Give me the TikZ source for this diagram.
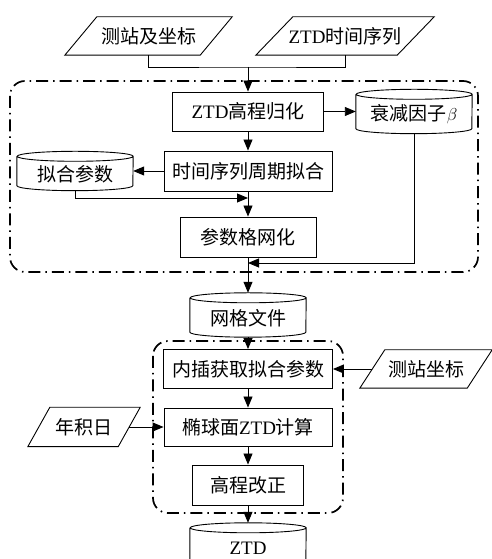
\documentclass[tikz,border=0pt]{standalone}
\usepackage{fontspec}
\setmainfont{Liberation Serif}
\newfontfamily\cjk{Noto Sans CJK SC}
\newcommand\zh[1]{{\cjk #1}}
\newcommand\lowtext[1]{\raisebox{-3pt}[\height][\depth]{#1}}
\usetikzlibrary{arrows.meta,calc}

% parallelogram outline around a (borderless) rectangle node: #1 name, #2 slant
\newcommand\drawpara[2]{%
  \draw[wire] ([xshift=-#2/2]#1.south west) -- ([xshift=-#2/2]#1.south east)
    -- ([xshift=#2/2]#1.north east) -- ([xshift=#2/2]#1.north west) -- cycle;}
% vertical cylinder outline around a (borderless) rectangle node of width 116
\newcommand\drawcyl[1]{%
  \draw[wire] ([yshift=-5pt]#1.north west) -- ([yshift=5pt]#1.south west)
    arc[start angle=180,end angle=360,x radius=58,y radius=5]
    -- ([yshift=-5pt]#1.north east)
    arc[start angle=0,end angle=360,x radius=58,y radius=5];}

\begin{document}
\begin{tikzpicture}[x=1pt,y=1pt,
  font=\fontsize{19}{21}\selectfont,
  wire/.style={line width=0.9pt},
  flow/.style={wire,-{Triangle[length=11pt,width=9pt]}},
  procbox/.style 2 args={draw,wire,minimum width=#1,minimum height=#2,inner sep=0pt},
  cylbox/.style={minimum width=116,minimum height=#1,inner sep=0pt},
  parabox/.style 2 args={minimum width=#1,minimum height=#2,inner sep=0pt},
  group/.style={line width=1.7pt,rounded corners=15pt,
    dash pattern=on 12pt off 5pt on 1.5pt off 5pt}]
\clip (0,0) rectangle (492,559);

% dash-dotted groups
\draw[group] (10,478) rectangle (478,287);
\draw[group] (153,218) rectangle (343,46);

% inputs
\node[parabox={135}{38}] (p1) at (148.5,523) {\zh{测站及坐标}};
\node[parabox={141}{38}] (p2) at (345,523) {ZTD\zh{时间序列}};
\node[parabox={90}{39}]  (p3) at (84,132)   {\zh{年积日}};
\node[parabox={107}{38}] (p4) at (426,190)  {\zh{测站坐标}};
\drawpara{p1}{32}
\drawpara{p2}{37}
\drawpara{p3}{22}
\drawpara{p4}{25}

% processing steps
\node[procbox={151}{39}] (b1) at (248,447.5) {ZTD\zh{高程归化}};
\node[procbox={168}{40}] (b2) at (248,388)   {\zh{时间序列周期拟合}};
\node[procbox={136}{40}] (b3) at (248,322)   {\zh{参数格网化}};
\node[procbox={169}{39}] (b4) at (248,190)   {\zh{内插获取拟合参数}};
\node[procbox={168}{38}] (b5) at (248,132)   {\zh{椭球面}ZTD\zh{计算}};
\node[procbox={111}{40}] (b6) at (248,74)    {\zh{高程改正}};

% data stores
\node[cylbox=44] (c1) at (414,447.5) {\lowtext{\zh{衰减因子}$\beta$}};
\node[cylbox=39] (c2) at (75,388)    {\lowtext{\zh{拟合参数}}};
\node[cylbox=44] (c3) at (248,244)   {\lowtext{\zh{网格文件}}};
\node[cylbox=44] (c4) at (248,14)    {\lowtext{ZTD}};
\drawcyl{c1}
\drawcyl{c2}
\drawcyl{c3}
\drawcyl{c4}

% junction points
\coordinate (j) at (248,492);
\coordinate (k) at (248,296);
\coordinate (m) at (248,361);

% connectors
\draw[wire] (p1.south) |- (j) -| (p2.south);
\draw[flow] (j) -- (b1.north);
\draw[flow] (b1.east) -- (c1.west);
\draw[flow] (c1.south) |- (k);
\draw[flow] (b1.south) -- (b2.north);
\draw[flow] (b2.west) -- (c2.east);
\draw[flow] (c2.south) |- (m);
\draw[flow] (b2.south) -- (b3.north);
\draw[flow] (b3.south) -- (c3.north);
\draw[flow] (c3.south) -- (b4.north);
\draw[flow] (p4.west) -- (b4.east);
\draw[flow] (b4.south) -- (b5.north);
\draw[flow] (p3.east) -- (b5.west);
\draw[flow] (b5.south) -- (b6.north);
\draw[flow] (b6.south) -- (c4.north);
\end{tikzpicture}
\end{document}
